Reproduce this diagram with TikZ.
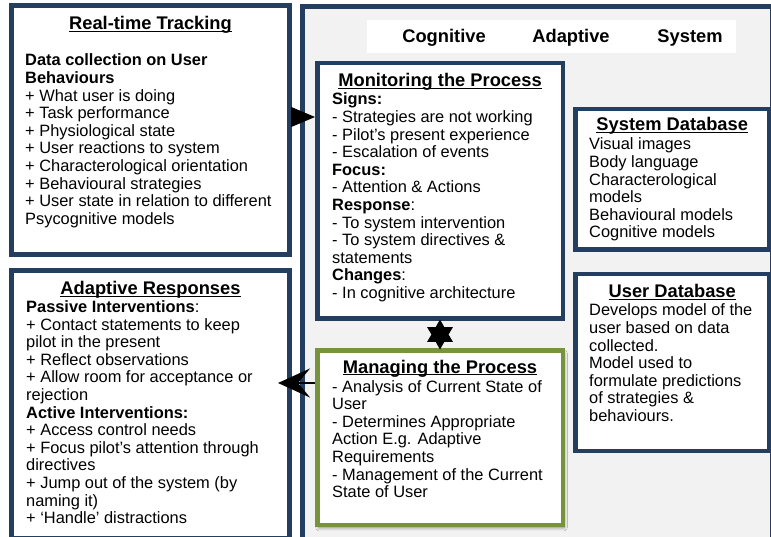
\documentclass[tikz,border=0pt]{standalone}
\usepackage{fontspec}
\setmainfont{Liberation Sans}
\usetikzlibrary{arrows.meta,shapes.geometric,calc,shadows.blur}

\definecolor{frameblue}{RGB}{35,62,95}
\definecolor{leafgreen}{RGB}{119,147,60}
\definecolor{panelgray}{RGB}{242,242,242}

% underline drawn just under the baseline, through descenders
\newsavebox\ulbox
\newcommand\titleul[1]{\sbox\ulbox{#1}\rlap{\rule[-2.3pt]{\wd\ulbox}{1.3pt}}\usebox\ulbox}
% left-aligned block whose reference point is the first baseline
\newcommand\textlines[1]{\parbox[t]{250pt}{\raggedright #1}}

\tikzset{
  x=1pt, y=-1pt,
  panel/.style={rectangle, draw=frameblue, line width=5pt, fill=white, inner sep=0pt},
  card/.style={rectangle, draw=frameblue, line width=4.5pt, fill=white, inner sep=0pt},
  greencard/.style={rectangle, draw=leafgreen, line width=4.5pt, fill=white, inner sep=0pt,
    blur shadow={shadow xshift=1.5pt, shadow yshift=-3pt, shadow blur radius=3pt, shadow opacity=45}},
  body/.style={anchor=base west, inner sep=0pt,
    font=\fontsize{16.4}{17.6}\selectfont},
  heading/.style={anchor=base, inner sep=0pt,
    font=\fontsize{18.3}{17.6}\selectfont\bfseries},
}

\begin{document}
\begin{tikzpicture}
\useasboundingbox (0,0) rectangle (771,537);
\clip (0,0) rectangle (771,537);
\fill[white] (0,0) rectangle (771,537);

% left column
\node[panel, minimum width=278pt, minimum height=249pt] (rt) at (150.5,130) {};
\node[panel, minimum width=278pt, minimum height=267.5pt] (ar) at (150.5,404.25) {};

% system frame
\node[panel, fill=panelgray, minimum width=469.5pt, minimum height=551pt] (sys) at (537.25,282) {};
\node[fill=white, inner sep=0pt, minimum width=369pt, minimum height=33pt] (band) at (551.5,36.5) {};
\node[heading] (cog) at (444,42.5) {Cognitive};
\node[heading] (ada) at (571,42.5) {Adaptive};
\node[heading] (sy) at (690,42.5) {System};

\node[card, minimum width=245.5pt, minimum height=255.5pt] (mon) at (440,191) {};
\node[card, minimum width=194pt, minimum height=140.5pt] (sdb) at (672.25,179.5) {};
\node[card, minimum width=194pt, minimum height=176.5pt] (udb) at (672.25,362.5) {};
\node[greencard, minimum width=245.5pt, minimum height=174.5pt] (mg) at (440,437.5) {};

% Real-time Tracking
\node[heading] (rtT) at (150.5,30) {\titleul{Real-time Tracking}};
\node[body] (rtB) at (25,66) {\textlines{\textbf{Data collection on User}\\
\textbf{Behaviours}\\
+ What user is doing\\
+ Task performance\\
+ Physiological state\\
+ User reactions to system\\
+ Characterological orientation\\
+ Behavioural strategies\\
+ User state in relation to different\\
Psycognitive models}};

% Adaptive Responses
\node[heading] (arT) at (150.5,295) {\titleul{Adaptive Responses}};
\node[body] (arB) at (26,312.6) {\textlines{\textbf{Passive Interventions}:\\
+ Contact statements to keep\\
pilot in the present\\
+ Reflect observations\\
+ Allow room for acceptance or\\
rejection\\
\textbf{Active Interventions:}\\
+ Access control needs\\
+ Focus pilot’s attention through\\
directives\\
+ Jump out of the system (by\\
naming it)\\
+ ‘Handle’ distractions}};

% Monitoring the Process
\node[heading] (monT) at (440,87) {\titleul{Monitoring the Process}};
\node[body] (monB) at (332,105) {\textlines{\textbf{Signs:}\\
- Strategies are not working\\
- Pilot’s present experience\\
- Escalation of events\\
\textbf{Focus:}\\
- Attention \& Actions\\
\textbf{Response}:\\
- To system intervention\\
- To system directives \&\\
statements\\
\textbf{Changes}:\\
- In cognitive architecture}};

% System Database
\node[heading] (sdbT) at (672.25,131) {\titleul{System Database}};
\node[body] (sdbB) at (589,150) {\textlines{Visual images\\
Body language\\
Characterological\\
models\\
Behavioural models\\
Cognitive models}};

% User Database
\node[heading] (udbT) at (672.25,298) {\titleul{User Database}};
\node[body] (udbB) at (589,316) {\textlines{Develops model of the\\
user based on data\\
collected.\\
Model used to\\
formulate predictions\\
of strategies \&\\
behaviours.}};

% Managing the Process
\node[heading] (mgT) at (440,373) {\titleul{Managing the Process}};
\node[body] (mgB) at (332,392) {\textlines{- Analysis of Current State of\\
User\\
- Determines Appropriate\\
Action E.g. Adaptive\\
Requirements\\
- Management of the Current\\
State of User}};

% connectors
\coordinate (in1) at (0,117);
\draw[line width=1pt, -{Triangle[length=24pt,width=20pt]}] (in1 -| rt.east) -- (in1 -| mon.west);
\coordinate (out1) at (278,383);
\draw[line width=2pt, -{Stealth[length=32pt,width=29pt,inset=12pt]}] (out1 -| mg.west) -- (out1);
\node[star, star points=6, star point ratio=1.75, fill=black, minimum size=30pt, inner sep=0pt]
  (hub) at ($(mon.south)!0.5!(mg.north)$) {};
\end{tikzpicture}
\end{document}
